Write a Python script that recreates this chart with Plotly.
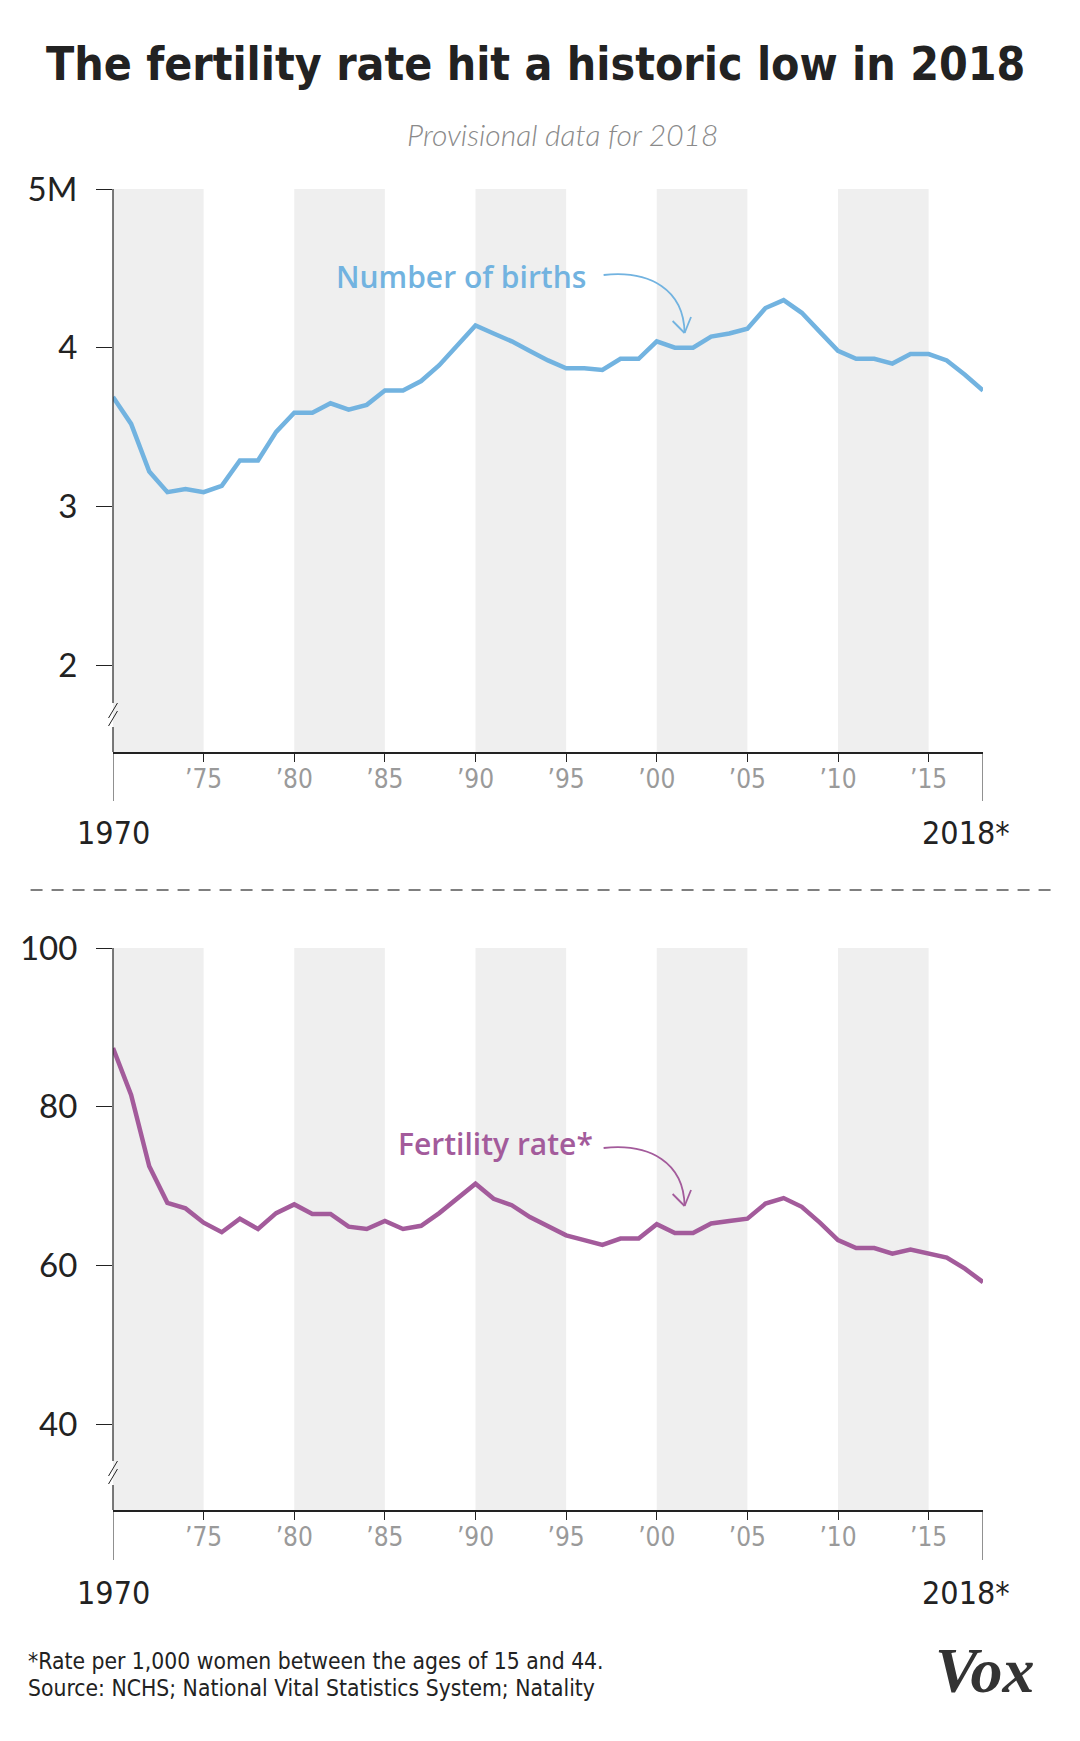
import plotly.graph_objects as go

# ---------------- data ----------------
years = list(range(1970, 2019))
births_millions = [3.69, 3.52, 3.22, 3.09, 3.11, 3.09, 3.13, 3.29, 3.29, 3.47,
                   3.59, 3.59, 3.65, 3.61, 3.64, 3.73, 3.73, 3.79, 3.89, 4.01,
                   4.14, 4.09, 4.04, 3.98, 3.92, 3.87, 3.87, 3.86, 3.93, 3.93,
                   4.04, 4.00, 4.00, 4.07, 4.09, 4.12, 4.25, 4.30, 4.22, 4.10,
                   3.98, 3.93, 3.93, 3.90, 3.96, 3.96, 3.92, 3.83, 3.73]
fertility_rate = [87.4, 81.5, 72.5, 67.9, 67.2, 65.4, 64.2, 65.9, 64.6, 66.6,
                  67.7, 66.5, 66.5, 64.9, 64.6, 65.6, 64.6, 65.0, 66.6, 68.4,
                  70.3, 68.4, 67.6, 66.1, 64.9, 63.8, 63.2, 62.6, 63.4, 63.4,
                  65.2, 64.1, 64.1, 65.3, 65.6, 65.9, 67.8, 68.5, 67.4, 65.4,
                  63.2, 62.2, 62.2, 61.5, 62.0, 61.5, 61.0, 59.6, 57.9]
band_starts = [1970, 1980, 1990, 2000, 2010]
xtick_vals = [1975, 1980, 1985, 1990, 1995, 2000, 2005, 2010, 2015]
xtick_text = ["’75", "’80", "’85", "’90", "’95", "’00", "’05", "’10", "’15"]
births_ticks = [2, 3, 4, 5]
births_ticktext = ["2", "3", "4", "5M"]
rate_ticks = [40, 60, 80, 100]
rate_ticktext = ["40", "60", "80", "100"]

BLUE = "#72b3e0"
PURPLE = "#a35b9b"
BAND = "#efefef"
INK = "#222222"
COND = "Liberation Sans Narrow, DejaVu Sans Condensed, Arial Narrow, sans-serif"

# page body has an 8px margin; work in screen pixels and convert
OFF = 8
W, H = 1080 - OFF, 1741 - OFF
SL, SR, ST, SB = 107, 983, 189, 1510   # plot area in screen pixels


def xp(px):
    return (px - SL) / (SR - SL)


def yp(py):
    return (SB - py) / (SB - ST)


top_dom = [yp(752), 1.0]
bot_dom = [0.0, yp(948)]

fig = go.Figure()
fig.add_trace(go.Scatter(x=years, y=births_millions, mode="lines",
                         line=dict(color=BLUE, width=4.5), xaxis="x", yaxis="y",
                         hoverinfo="skip"))
fig.add_trace(go.Scatter(x=years, y=fertility_rate, mode="lines",
                         line=dict(color=PURPLE, width=4.5), xaxis="x2", yaxis="y2",
                         hoverinfo="skip"))

xaxis_common = dict(range=[1970, 2018], showgrid=False, zeroline=False,
                    showline=True, linecolor=INK, linewidth=1.5,
                    tickvals=xtick_vals, ticktext=xtick_text, ticks="outside",
                    ticklen=8, tickwidth=1, tickcolor=INK, ticklabelstandoff=-5,
                    tickfont=dict(family=COND, size=26, color="#9a9a9a"),
                    fixedrange=True)
yaxis_common = dict(showgrid=False, zeroline=False, showline=False,
                    ticks="outside", ticklen=16, tickwidth=1, tickcolor=INK,
                    ticklabelstandoff=12,
                    tickfont=dict(family="Lato, sans-serif", size=33, color=INK),
                    fixedrange=True)

fig.update_layout(
    width=W, height=H,
    margin=dict(l=SL - OFF, r=W - (SR - OFF), t=ST - OFF, b=H - (SB - OFF)),
    paper_bgcolor="white", plot_bgcolor="white", showlegend=False,
    xaxis=dict(anchor="y", **xaxis_common),
    xaxis2=dict(anchor="y2", **xaxis_common),
    yaxis=dict(domain=top_dom, range=[1.453, 5.0], tickvals=births_ticks,
               ticktext=births_ticktext, **yaxis_common),
    yaxis2=dict(domain=bot_dom, range=[29.2, 100], tickvals=rate_ticks,
                ticktext=rate_ticktext, **yaxis_common),
)

shapes = []
# shaded bands
for xr, yr in (("x", "y domain"), ("x2", "y2 domain")):
    for s in band_starts:
        shapes.append(dict(type="rect", xref=xr, yref=yr, x0=s, x1=s + 5, y0=0, y1=1,
                           fillcolor=BAND, line=dict(width=0), layer="below"))

# y-axis lines with break marks
for off in (0, 758):
    top_px = 189 if off == 0 else 948
    shapes.append(dict(type="line", xref="paper", yref="paper", x0=0, x1=0,
                       y0=yp(top_px), y1=yp(703 + off), line=dict(color=INK, width=1.2)))
    shapes.append(dict(type="line", xref="paper", yref="paper", x0=0, x1=0,
                       y0=yp(727 + off), y1=yp(752 + off), line=dict(color=INK, width=1.2)))
    for d in (0, 8):
        shapes.append(dict(type="line", xref="paper", yref="paper",
                           x0=xp(SL - 4.5), y0=yp(718 + d + off), x1=xp(SL + 4.5), y1=yp(703 + d + off),
                           line=dict(color=INK, width=1)))

# long end ticks at 1970 and 2018
for xr, axis_py, end_py in (("x", 752, 801), ("x2", 1510, 1560)):
    for yv in (1970, 2018):
        shapes.append(dict(type="line", xref=xr, yref="paper", x0=yv, x1=yv,
                           y0=yp(axis_py), y1=yp(end_py), line=dict(color=INK, width=1)))

# dashed separator
shapes.append(dict(type="line", xref="paper", yref="paper", x0=xp(24), x1=xp(1056),
                   y0=yp(890), y1=yp(890), line=dict(color="#555555", width=1.5, dash="12px,9px")))


# curved arrows
def arrow(off, color):
    p = lambda x, y: f"{xp(x):.5f},{yp(y + off):.5f}"
    path = f"M {p(601, 275)} C {p(648, 270)} {p(682, 290)} {p(682.5, 333)}"
    shapes.append(dict(type="path", xref="paper", yref="paper", path=path,
                       line=dict(color=color, width=1.8)))
    for ax, ay in ((670.5, 321), (689, 317)):
        shapes.append(dict(type="line", xref="paper", yref="paper",
                           x0=xp(ax), y0=yp(ay + off), x1=xp(682.5), y1=yp(333 + off),
                           line=dict(color=color, width=1.8)))


arrow(0, BLUE)
arrow(873, PURPLE)
fig.update_layout(shapes=shapes)

ann = []


def text(x, y, s, font, xanchor="center", xref="paper", xshift=0):
    ann.append(dict(x=x, y=y, xref=xref, yref="paper", text=s, showarrow=False,
                    xanchor=xanchor, yanchor="middle", font=font, xshift=xshift))


text(xp(532), yp(64), "The fertility rate hit a historic low in 2018",
     dict(family=COND, size=46, color="#222222", weight=700))
text(xp(560), yp(134), "<i>Provisional data for 2018</i>",
     dict(family="Lato, sans-serif", size=30, color="#8a8a8a", weight=300))
text(xp(330), yp(276), "Number of births",
     dict(family="Open Sans, sans-serif", size=30, color=BLUE, weight=600), xanchor="left")
text(xp(392), yp(1143), "Fertility rate*",
     dict(family="Open Sans, sans-serif", size=30, color=PURPLE, weight=600), xanchor="left")
for py in (833, 1593):
    text(1970, yp(py), "1970", dict(family=COND, size=32, color=INK), xref="x")
    text(2018, yp(py), "2018*", dict(family=COND, size=32, color=INK), xref="x", xshift=-17)
text(xp(19), yp(1661), "*Rate per 1,000 women between the ages of 15 and 44.",
     dict(family=COND, size=22.7, color=INK), xanchor="left")
text(xp(19), yp(1688), "Source: NCHS; National Vital Statistics System; Natality",
     dict(family=COND, size=22.7, color=INK), xanchor="left")
text(xp(985), yp(1670), "<b><i>Vox</i></b>",
     dict(family="Liberation Serif, serif", size=64, color="#333333"))

fig.update_layout(annotations=ann)
fig.write_html("out.html")
